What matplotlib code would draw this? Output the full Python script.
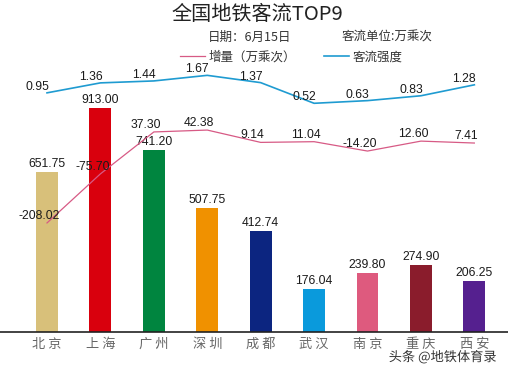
import matplotlib
matplotlib.use("Agg")
import matplotlib.pyplot as plt
import matplotlib.patheffects as pe
import numpy as np

plt.rcParams["font.family"] = ["Liberation Sans", "Noto Sans CJK SC", "DejaVu Sans"]

#------------------
# Data
#------------------
cities = ["北京", "上海", "广州", "深圳", "成都", "武汉", "南京", "重庆", "西安"]
ridership = [651.75, 913.00, 741.20, 507.75, 412.74, 176.04, 239.80, 274.90, 206.25]
increase = [-208.02, -75.70, 37.30, 42.38, 9.14, 11.04, -14.20, 12.60, 7.41]
intensity = [0.95, 1.36, 1.44, 1.67, 1.37, 0.52, 0.63, 0.83, 1.28]
bar_colors = ["#D8C07A", "#D9000D", "#00853F", "#F09100", "#0C2580",
              "#0A9ADC", "#DE5A7E", "#8A1C2C", "#55208F"]

x = np.arange(len(cities))

fig = plt.figure(figsize=(5.08, 3.74), dpi=100)
ax = fig.add_axes([0, 42 / 374, 1, 332 / 374])

#------------------
# Bars
#------------------
ax.bar(x, ridership, width=0.41, color=bar_colors, zorder=2)
for xi, v in zip(x, ridership):
    ax.annotate(f"{v:.2f}", (xi, v), xytext=(0, 2), textcoords="offset pixels",
                ha="center", va="bottom", fontsize=8.7, color="#1a1a1a", zorder=5)
ax.set_xlim(-0.88, 8.63)
ax.set_ylim(0, 1355)
ax.set_xticks(x)
ax.set_xticklabels([" ".join(c) for c in cities],
                   family=["Noto Sans CJK SC"], fontsize=9.5, color="#666666")
ax.tick_params(axis="x", length=0, pad=4)
ax.set_yticks([])
for s in ["top", "left", "right"]:
    ax.spines[s].set_visible(False)
ax.spines["bottom"].set_color("#222222")
ax.spines["bottom"].set_linewidth(1.2)

#------------------
# Increase line
#------------------
ax2 = ax.twinx()
l_inc, = ax2.plot(x, increase, color="#D75A85", lw=0.9, label="增量（万乘次）", zorder=3)
ax2.set_ylim(-502, 393)
for xi, v in zip(x, increase):
    ax2.annotate(f"{v:.2f}", (xi, v), xytext=(-8, 7), textcoords="offset pixels",
                 ha="center", va="center", fontsize=8.7, color="#1a1a1a")

#------------------
# Intensity line
#------------------
ax3 = ax.twinx()
l_int, = ax3.plot(x, intensity, color="#1F9BD1", lw=1.2, label="客流强度", zorder=3)
ax3.set_ylim(-8.89, 4.77)
for xi, v in zip(x, intensity):
    ax3.annotate(f"{v:.2f}", (xi, v), xytext=(-10, 6), textcoords="offset pixels",
                 ha="center", va="center", fontsize=8.7, color="#1a1a1a")

for a in [ax2, ax3]:
    a.set_yticks([])
    for s in a.spines.values():
        s.set_visible(False)

#------------------
# Titles, legend, watermark
#------------------
cjk = ["Noto Sans CJK SC", "Liberation Sans"]
fig.text(0.506, 1 - 15 / 374, "全国地铁客流TOP9", ha="center", va="center",
         fontsize=14.5, family=cjk, color="#222222")
fig.text(208 / 508, 1 - 37 / 374, "日期：6月15日", ha="left", va="center",
         fontsize=9, family=cjk, color="#333333")
fig.text(342 / 508, 1 - 37 / 374, "客流单位:万乘次", ha="left", va="center",
         fontsize=9, family=cjk, color="#333333")

leg = fig.legend(handles=[l_inc, l_int], loc="center", bbox_to_anchor=(0.573, 1 - 57 / 374),
                 ncol=2, frameon=False, handlelength=2.0, handletextpad=0.3,
                 columnspacing=2.2, prop={"family": cjk, "size": 9})
for t in leg.get_texts():
    t.set_color("#333333")

fig.text(497 / 508, 1 - 357 / 374, "头条 @地铁体育录", ha="right", va="center",
         fontsize=9.5, family=cjk, color="#333333",
         path_effects=[pe.withStroke(linewidth=2, foreground="white")])

plt.savefig("out.png", dpi=100)
plt.close()
